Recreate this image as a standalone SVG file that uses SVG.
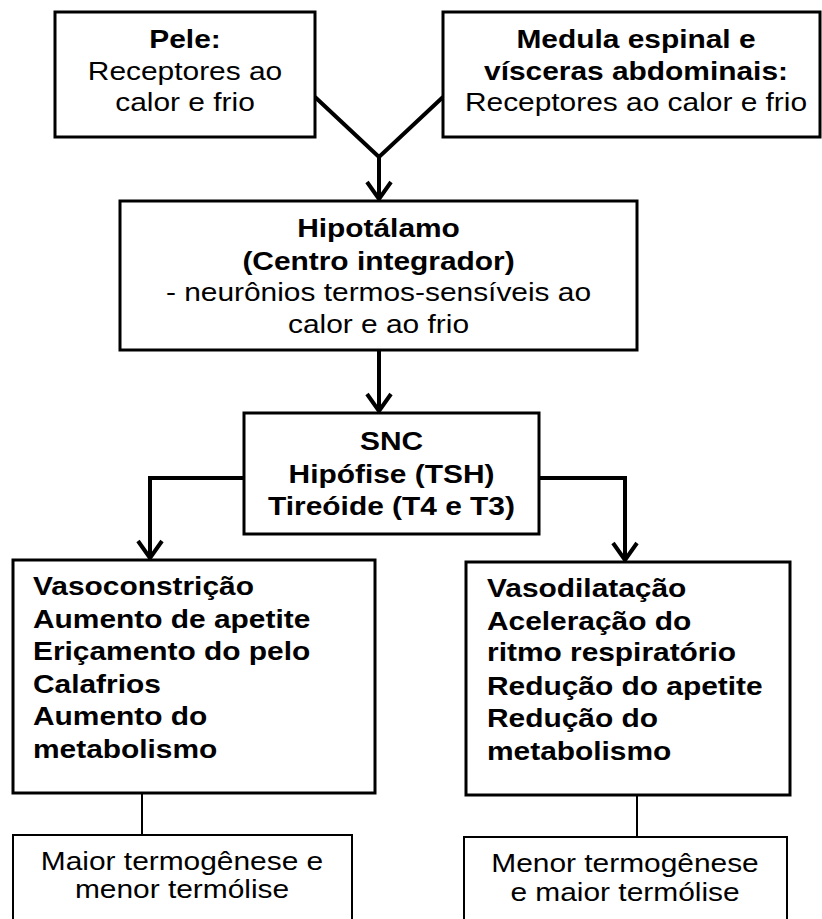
<svg xmlns="http://www.w3.org/2000/svg" width="822" height="919" viewBox="0 0 822 919">
<style>
.box{fill:#fff;stroke:#000;stroke-width:3}
.thinbox{fill:#fff;stroke:#000;stroke-width:2}
.conn{fill:none;stroke:#000;stroke-width:4;stroke-linejoin:miter}
.thin{fill:none;stroke:#000;stroke-width:2}
text{font-family:"Liberation Sans",Arial,sans-serif;font-size:26px;fill:#000}
.b{font-weight:bold}
.c{text-anchor:middle}
</style>
<defs>
<marker id="arr" markerUnits="userSpaceOnUse" viewBox="-20 -16 24 32" markerWidth="24" markerHeight="32" refX="0" refY="0" orient="auto" overflow="visible">
<path d="M-17,-12 L0,0 L-17,12" fill="none" stroke="#000" stroke-width="4"/>
</marker>
</defs>
<rect width="822" height="919" fill="#fff"/>
<g id="connectors">
<polyline class="conn" points="315,97 379,157 443,97"/>
<line class="conn" x1="379" y1="157" x2="379" y2="199" marker-end="url(#arr)"/>
<line class="conn" x1="379" y1="350" x2="379" y2="411" marker-end="url(#arr)"/>
<polyline class="conn" points="244,478 150,478 150,558" marker-end="url(#arr)"/>
<polyline class="conn" points="539,478 625,478 625,560" marker-end="url(#arr)"/>
<line class="thin" x1="142" y1="793" x2="142" y2="835"/>
<line class="thin" x1="637" y1="795" x2="637" y2="837"/>
</g>
<g id="pele">
<rect class="box" x="55" y="12" width="260" height="125"/>
<g transform="translate(185,0) scale(1.15,1)">
<text class="b c" x="0" y="48">Pele:</text>
<text class="c" x="0" y="80">Receptores ao</text>
<text class="c" x="0" y="111">calor e frio</text>
</g>
</g>
<g id="medula">
<rect class="box" x="443" y="12" width="377" height="125"/>
<g transform="translate(636,0) scale(1.15,1)">
<text class="b c" x="0" y="48">Medula espinal e</text>
<text class="b c" x="0" y="80">vísceras abdominais:</text>
<text class="c" x="0" y="111">Receptores ao calor e frio</text>
</g>
</g>
<g id="hipotalamo">
<rect class="box" x="120" y="201" width="517" height="149"/>
<g transform="translate(378.5,0) scale(1.15,1)">
<text class="b c" x="0" y="237">Hipotálamo</text>
<text class="b c" x="0" y="270">(Centro integrador)</text>
<text class="c" x="0" y="301">- neurônios termos-sensíveis ao</text>
<text class="c" x="0" y="333">calor e ao frio</text>
</g>
</g>
<g id="snc">
<rect class="box" x="244" y="413" width="295" height="121"/>
<g transform="translate(391.5,0) scale(1.15,1)">
<text class="b c" x="0" y="450">SNC</text>
<text class="b c" x="0" y="483">Hipófise (TSH)</text>
<text class="b c" x="0" y="515">Tireóide (T4 e T3)</text>
</g>
</g>
<g id="frio">
<rect class="box" x="13" y="560" width="362" height="233"/>
<g transform="translate(33,0) scale(1.15,1)">
<text class="b" x="0" y="595">Vasoconstrição</text>
<text class="b" x="0" y="628">Aumento de apetite</text>
<text class="b" x="0" y="660">Eriçamento do pelo</text>
<text class="b" x="0" y="693">Calafrios</text>
<text class="b" x="0" y="725">Aumento do</text>
<text class="b" x="0" y="758">metabolismo</text>
</g>
</g>
<g id="calor">
<rect class="box" x="466" y="562" width="324" height="233"/>
<g transform="translate(487,0) scale(1.15,1)">
<text class="b" x="0" y="597">Vasodilatação</text>
<text class="b" x="0" y="630">Aceleração do</text>
<text class="b" x="0" y="661">ritmo respiratório</text>
<text class="b" x="0" y="695">Redução do apetite</text>
<text class="b" x="0" y="727">Redução do</text>
<text class="b" x="0" y="760">metabolismo</text>
</g>
</g>
<g id="resultado-frio">
<rect class="thinbox" x="13" y="835" width="339" height="100"/>
<g transform="translate(182,0) scale(1.15,1)">
<text class="c" x="0" y="870">Maior termogênese e</text>
<text class="c" x="0" y="898">menor termólise</text>
</g>
</g>
<g id="resultado-calor">
<rect class="thinbox" x="464" y="837" width="323" height="100"/>
<g transform="translate(625,0) scale(1.15,1)">
<text class="c" x="0" y="872">Menor termogênese</text>
<text class="c" x="0" y="901">e maior termólise</text>
</g>
</g>
</svg>
